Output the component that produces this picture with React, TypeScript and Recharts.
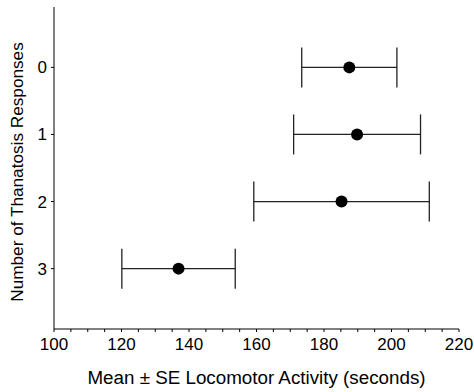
import React from 'react';
import { ScatterChart, Scatter, XAxis, YAxis, ErrorBar } from 'recharts';

const responses = [0, 1, 2, 3];
const meanActivity = [187.5, 189.8, 185.2, 136.9];
const seActivity = [14.1, 18.8, 26.0, 16.8];
const xTicks = [100, 105, 110, 115, 120, 125, 130, 135, 140, 145, 150, 155, 160, 165, 170, 175, 180, 185, 190, 195, 200, 205, 210, 215, 220];
const yTicks = [0, 1, 2, 3];

const data = responses.map((r, i) => ({ y: r, x: meanActivity[i], err: seActivity[i] }));

const font = '"Liberation Sans", Arial, Helvetica, sans-serif';

export default function App() {
  return (
    <div style={{ position: 'absolute', left: 0, top: 0, width: 474, height: 392, background: '#fff' }}>
      <ScatterChart width={474} height={392} margin={{ top: 7, right: 15, bottom: 0, left: 0 }}>
        <XAxis
          type="number"
          dataKey="x"
          domain={[100, 220]}
          ticks={xTicks}
          interval={0}
          tickFormatter={(v: number) => (v % 20 === 0 ? String(v) : '')}
          height={63}
          tickSize={3}
          tickMargin={6}
          stroke="#000"
          tick={{ fill: '#000', fontSize: 17, fontFamily: font }}
          allowDataOverflow
          label={{ value: 'Mean ± SE Locomotor Activity (seconds)', position: 'insideBottom', offset: 8, fill: '#000', fontSize: 18.8, fontFamily: font }}
        />
        <YAxis
          type="number"
          dataKey="y"
          domain={[-0.9, 3.9]}
          reversed
          ticks={yTicks}
          interval={0}
          width={54}
          tickSize={3}
          tickMargin={4}
          stroke="#000"
          tick={{ fill: '#000', fontSize: 17, fontFamily: font }}
          allowDataOverflow
          label={{ value: 'Number of Thanatosis Responses', angle: -90, position: 'center', dx: -10, dy: 4, fill: '#000', fontSize: 17.2, fontFamily: font }}
        />
        <Scatter data={data} fill="#000" isAnimationActive={false} shape={(p: any) => <circle cx={p.cx} cy={p.cy} r={6} fill="#000" />}>
          <ErrorBar dataKey="err" direction="x" width={20} stroke="#222" strokeWidth={1.3} isAnimationActive={false} />
        </Scatter>
      </ScatterChart>
    </div>
  );
}
